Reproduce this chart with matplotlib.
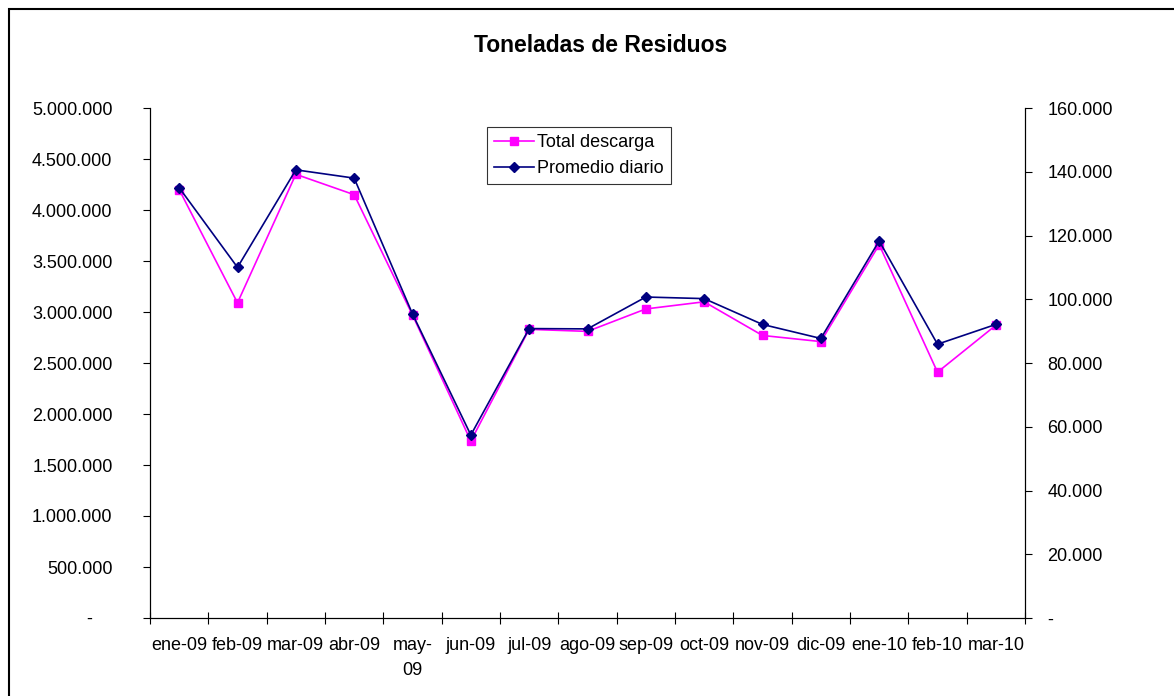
import matplotlib
matplotlib.use("Agg")
import matplotlib.pyplot as plt
from matplotlib.patches import Rectangle
from matplotlib.ticker import FixedLocator, FuncFormatter
import numpy as np

plt.rcParams['font.family'] = ['Liberation Sans', 'DejaVu Sans']

meses = ["ene-09", "feb-09", "mar-09", "abr-09", "may-\n09", "jun-09", "jul-09", "ago-09",
         "sep-09", "oct-09", "nov-09", "dic-09", "ene-10", "feb-10", "mar-10"]
total_descarga = [4200000, 3090000, 4350000, 4150000, 2970000, 1735000, 2830000, 2810000,
                  3030000, 3100000, 2770000, 2710000, 3660000, 2410000, 2870000]
promedio_diario = [135000, 110000, 140600, 138000, 95400, 57400, 90800, 90700,
                   100700, 100200, 92100, 87700, 118300, 85900, 92100]


def miles_izq(v, pos=None):
    # formato contable: punto de miles, cero como guion
    if v == 0:
        return "-\u2007\u2007"
    return "{:,.0f}".format(v).replace(",", ".")


def miles_der(v, pos=None):
    if v == 0:
        return "-"
    return "{:,.0f}".format(v).replace(",", ".")


fig = plt.figure(figsize=(11.74, 6.96), dpi=100)
ax = fig.add_axes([150 / 1174, 1 - 618 / 696, 875 / 1174, 510 / 696])
ax2 = ax.twinx()

x = np.arange(len(meses))
l1, = ax.plot(x, total_descarga, color="#FF00FF", marker="s", markersize=6.3, lw=1.2,
              label="Total descarga")
l2, = ax2.plot(x, promedio_diario, color="#000080", marker="D", markersize=5.5, lw=1.2,
               label="Promedio diario")

ax.set_xlim(-0.5, len(meses) - 0.5)
ax.set_ylim(0, 5000000)
ax2.set_ylim(0, 160000)
ax.set_yticks(np.arange(0, 5000001, 500000))
ax2.set_yticks(np.arange(0, 160001, 20000))
ax.yaxis.set_major_formatter(FuncFormatter(miles_izq))
ax2.yaxis.set_major_formatter(FuncFormatter(miles_der))

ax.set_xticks(x)
ax.set_xticklabels(meses)
for t in ax.get_xticklabels():
    t.set_linespacing(1.55)
ax.xaxis.set_minor_locator(FixedLocator(np.arange(-0.5, len(meses), 1.0)))
ax.tick_params(axis="x", which="major", length=0, pad=14, labelsize=13)
ax.tick_params(axis="x", which="minor", direction="inout", length=8, width=0.8)
ax.tick_params(axis="y", direction="out", length=5, width=0.8, labelsize=13, pad=22)
ax2.tick_params(axis="y", direction="out", length=5, width=0.8, labelsize=13, pad=11)

for a in (ax, ax2):
    a.spines["top"].set_visible(False)
    for s in ("left", "right", "bottom"):
        a.spines[s].set_linewidth(0.8)

leg = ax.legend(handles=[l1, l2], loc="upper left", bbox_to_anchor=(0.385, 0.963),
                fontsize=13, frameon=True, fancybox=False, edgecolor="black",
                handlelength=2.2, borderpad=0.4, labelspacing=0.5, handletextpad=0.2,
                borderaxespad=0)
leg.get_frame().set_linewidth(0.8)

fig.text(0.512, 1 - 45 / 696, "Toneladas de Residuos", ha="center", va="center",
         fontsize=16.5, fontweight="bold")

fig.patches.append(Rectangle((9 / 1174, -0.05), 1.2, 1 - 9 / 696 + 0.05,
                             transform=fig.transFigure, fill=False,
                             edgecolor="black", lw=1.5))

fig.savefig("out.png", dpi=100)
